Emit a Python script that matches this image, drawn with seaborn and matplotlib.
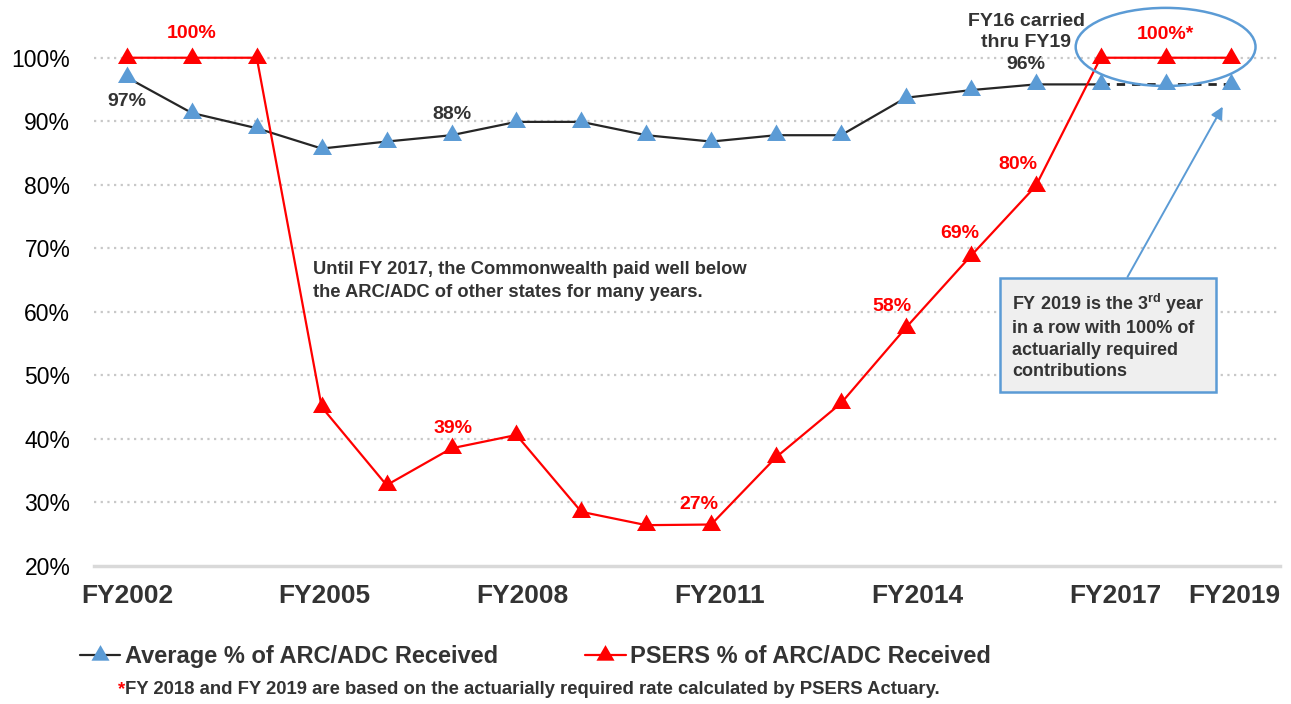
import numpy as np
import pandas as pd
import seaborn as sns
import matplotlib.pyplot as plt
from matplotlib.patches import Ellipse
from matplotlib.lines import Line2D

years = ['FY2002', 'FY2003', 'FY2004', 'FY2005', 'FY2006', 'FY2007', 'FY2008', 'FY2009', 'FY2010',
         'FY2011', 'FY2012', 'FY2013', 'FY2014', 'FY2015', 'FY2016', 'FY2017', 'FY2018', 'FY2019']
avg_pct = [96.9, 91.3, 88.9, 85.7, 86.8, 87.8, 89.9, 89.9, 87.8, 86.8, 87.8, 87.8,
           93.7, 94.9, 95.8, 95.8, 95.8, 95.8]
psers_pct = [100, 100, 100, 45.0, 32.7, 38.5, 40.6, 28.5, 26.4, 26.5, 37.1, 45.6,
             57.5, 68.8, 79.8, 100, 100, 100]
shown_years = ['FY2002', 'FY2005', 'FY2008', 'FY2011', 'FY2014', 'FY2017', 'FY2019']
avg_labels = {'FY2002': '97%', 'FY2007': '88%', 'FY2016': 'FY16 carried\nthru FY19\n96%'}
psers_labels = {'FY2003': '100%', 'FY2007': '39%', 'FY2011': '27%', 'FY2014': '58%',
                'FY2015': '69%', 'FY2016': '80%', 'FY2018': '100%*'}

BLUE = '#5b9bd5'
RED = '#ff0000'
DARK = '#333333'
TRI = [(-1, -0.577), (1, -0.577), (0, 1.155)]  # equilateral triangle marker

sns.set_style('white')
plt.rcParams['font.family'] = ['Liberation Sans', 'DejaVu Sans']
plt.rcParams['mathtext.fontset'] = 'custom'
plt.rcParams['mathtext.rm'] = 'Liberation Sans'
plt.rcParams['mathtext.bf'] = 'Liberation Sans:bold'

df = pd.DataFrame({'year': years, 'avg': avg_pct, 'psers': psers_pct})
df['x'] = np.arange(len(df))

fig = plt.figure(figsize=(12.91, 7.04), dpi=100)
ax = fig.add_axes([0.0728, 0.1963, 0.9187, 0.7668])

# average line, solid up to FY2017 then dashed (carried forward)
solid = df[df['x'] <= 15]
carried = df[df['x'] >= 15]
sns.lineplot(data=solid, x='x', y='avg', color='#262626', lw=1.6, ax=ax, zorder=2)
sns.lineplot(data=carried, x='x', y='avg', color='#262626', lw=2, ax=ax, zorder=2,
             linestyle=(0, (3, 2.5)))
sns.scatterplot(data=df, x='x', y='avg', marker=TRI, s=250, color=BLUE, linewidth=0, ax=ax, zorder=3)

sns.lineplot(data=df, x='x', y='psers', color=RED, lw=1.6, ax=ax, zorder=4)
sns.scatterplot(data=df, x='x', y='psers', marker=TRI, s=250, color=RED, linewidth=0, ax=ax, zorder=5)

stretch = 1.015
xmax = 17.5 * stretch
ax.set_xlim(-0.5 * stretch, xmax)
ax.set_ylim(20, 105)

ax.set_yticks(range(20, 101, 10), [f'{v}%' for v in range(20, 101, 10)])
for v in range(30, 101, 10):
    ax.axhline(v, color='#c8c8c8', lw=1.6, linestyle=(0, (1, 2)), zorder=1)

lab_idx = [years.index(y) for y in shown_years]
lab_pos = [i * stretch for i in lab_idx[:-1]] + [xmax]
ax.set_xticks(lab_pos, shown_years)
ax.set_xticks((np.arange(len(years) + 1) - 0.5) * stretch, minor=True)
ax.tick_params(axis='x', which='major', length=0, pad=13, labelsize=19, labelcolor=DARK)
ax.tick_params(axis='x', which='minor', length=7, width=2, color='#d9d9d9', direction='out')
ax.tick_params(axis='y', length=0, pad=17, labelsize=16.5, labelcolor='black')
for t in ax.get_xticklabels():
    t.set_fontweight('bold')
ax.get_xticklabels()[-1].set_ha('right')
ax.set_xlabel('')
ax.set_ylabel('')
for s in ['left', 'right', 'top']:
    ax.spines[s].set_visible(False)
ax.spines['bottom'].set_color('#d9d9d9')
ax.spines['bottom'].set_linewidth(2.5)

# value labels
avg_offsets = {'FY2002': (0, -17), 'FY2007': (0, 15), 'FY2016': (-7, 30)}
for y, txt in avg_labels.items():
    i = years.index(y)
    ax.annotate(txt, (i, avg_pct[i]), xytext=avg_offsets[y], textcoords='offset points',
                ha='center', va='center', fontsize=14, fontweight='bold', color=DARK,
                linespacing=1.35)
red_offsets = {'FY2003': (0, 17.5), 'FY2007': (1, 14.5), 'FY2011': (-9, 14.5), 'FY2014': (-10, 15.5),
               'FY2015': (-8, 16), 'FY2016': (-13, 15.5), 'FY2018': (0, 16.5)}
for y, txt in psers_labels.items():
    i = years.index(y)
    ax.annotate(txt, (i, psers_pct[i]), xytext=red_offsets[y], textcoords='offset points',
                ha='center', va='center', fontsize=14, fontweight='bold', color=RED)

ax.text(2.86, 64.85, 'Until FY 2017, the Commonwealth paid well below\nthe ARC/ADC of other states for many years.',
        ha='left', va='center', fontsize=13.2, fontweight='bold', color=DARK, linespacing=1.45)

ax.add_patch(Ellipse((16, 101.7), 2.77, 12.3, fill=False, edgecolor=BLUE, lw=1.8, clip_on=False, zorder=6))

ax.annotate('FY 2019 is the 3$^{\\mathbf{rd}}$ year\nin a row with 100% of\nactuarially required\ncontributions',
            xy=(16.88, 92.3), xytext=(13.63, 56.2), textcoords='data',
            ha='left', va='center', fontsize=13, fontweight='bold', color=DARK, linespacing=1.35,
            bbox=dict(boxstyle='square,pad=0.65', facecolor='#efefef', edgecolor=BLUE, lw=1.8),
            arrowprops=dict(arrowstyle='-|>', color=BLUE, lw=1.4, mutation_scale=18,
                            relpos=(0.56, 1), shrinkA=0, shrinkB=0))

leg_handles = [Line2D([], [], color='#262626', lw=1.6, marker=TRI, ms=15, mfc=BLUE, mew=0),
               Line2D([], [], color=RED, lw=1.6, marker=TRI, ms=15, mfc=RED, mew=0)]
fig.legend(leg_handles, ['Average % of ARC/ADC Received', 'PSERS % of ARC/ADC Received'],
           loc='center left', bbox_to_anchor=(0.062, 0.0675), ncol=2, frameon=False,
           prop={'weight': 'bold', 'size': 17}, labelcolor=DARK, handlelength=1.7,
           handletextpad=0.2, columnspacing=3.7, borderpad=0, borderaxespad=0)

star = fig.text(0.091, 0.008, '*', color=RED, fontsize=13.3, fontweight='bold', ha='left', va='bottom')
ax.annotate('FY 2018 and FY 2019 are based on the actuarially required rate calculated by PSERS Actuary.',
            xy=(1, 0), xycoords=star, ha='left', va='bottom', fontsize=13.3, fontweight='bold', color=DARK,
            annotation_clip=False)

fig.savefig('out.png', dpi=100)
